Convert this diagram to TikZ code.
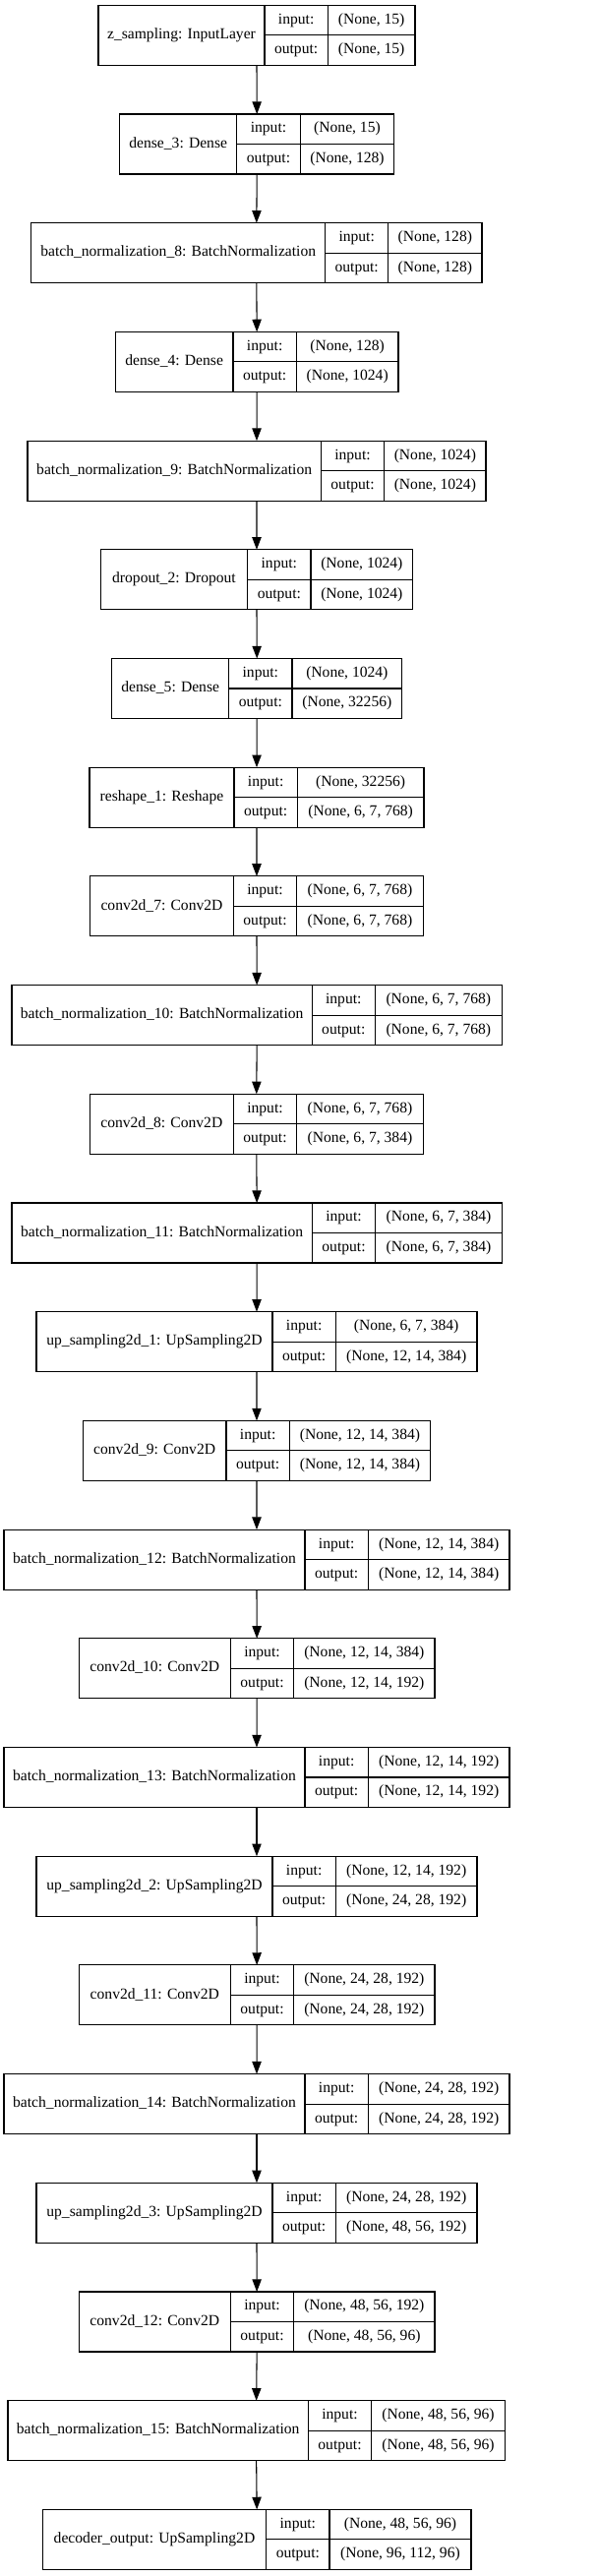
\documentclass[tikz,border=0pt]{standalone}
\usepackage{fontspec}
\setmainfont{Liberation Serif}
\usetikzlibrary{arrows.meta}

\tikzset{
  rec/.style={draw, line width=0.8pt, inner sep=0pt, outer sep=0pt, anchor=north west, minimum height=45.75pt},
  cell/.style={font=\fontsize{11.7}{14}\selectfont, inner sep=0pt, text height=8.1pt, text depth=2.6pt},
  flow/.style={line width=0.8pt, -{Triangle[length=9.5pt,width=7pt]}}
}

% #1 node, #2 top, #3 left, #4 first bar, #5 second bar, #6 right, #7 layer, #8 input, #9 output
\newcommand{\layer}[9]{%
  \node (#1) [rec, minimum width={(#6-#3)*0.75pt}] at (#3,#2) {};
  \draw[line width=0.8pt] (#4,#2) -- (#4,#2+61) (#5,#2) -- (#5,#2+61)
        (#4,#2+30.5) -- (#6,#2+30.5);
  \node (#1n) [cell] at ({(#3+#4)/2},#2+30.5) {#7};
  \node (#1i) [cell] at ({(#4+#5)/2},#2+15.25) {input:};
  \node (#1o) [cell] at ({(#4+#5)/2},#2+45.75) {output:};
  \node (#1a) [cell] at ({(#5+#6)/2},#2+15.25) {#8};
  \node (#1b) [cell] at ({(#5+#6)/2},#2+45.75) {#9};
}

\begin{document}
\begin{tikzpicture}[x=0.75pt, y=-0.75pt]
  \useasboundingbox (0,0) rectangle (607,2619);
  \layer{l0}{5.3}{100}{269}{333.3}{422}{z\_sampling: InputLayer}{(None, 15)}{(None, 15)}
  \layer{l1}{116}{121.7}{240.7}{305.3}{400.7}{dense\_3: Dense}{(None, 15)}{(None, 128)}
  \layer{l2}{226.7}{31.7}{330.7}{394.7}{490}{batch\_normalization\_8: BatchNormalization}{(None, 128)}{(None, 128)}
  \layer{l3}{337.4}{117.3}{237}{301.3}{405}{dense\_4: Dense}{(None, 128)}{(None, 1024)}
  \layer{l4}{448.1}{28}{326.3}{390.7}{494}{batch\_normalization\_9: BatchNormalization}{(None, 1024)}{(None, 1024)}
  \layer{l5}{558.8}{102.3}{251.7}{316}{419.7}{dropout\_2: Dropout}{(None, 1024)}{(None, 1024)}
  \layer{l6}{669.5}{113.7}{232.7}{297}{408.7}{dense\_5: Dense}{(None, 1024)}{(None, 32256)}
  \layer{l7}{780.2}{91}{238}{302.3}{431}{reshape\_1: Reshape}{(None, 32256)}{(None, 6, 7, 768)}
  \layer{l8}{890.9}{91.7}{237.3}{301.7}{430.3}{conv2d\_7: Conv2D}{(None, 6, 7, 768)}{(None, 6, 7, 768)}
  \layer{l9}{1001.6}{12}{317.3}{381.3}{510.3}{batch\_normalization\_10: BatchNormalization}{(None, 6, 7, 768)}{(None, 6, 7, 768)}
  \layer{l10}{1112.3}{91.3}{237.3}{301.7}{430.3}{conv2d\_8: Conv2D}{(None, 6, 7, 768)}{(None, 6, 7, 384)}
  \layer{l11}{1223}{12}{317.3}{381.7}{510.3}{batch\_normalization\_11: BatchNormalization}{(None, 6, 7, 384)}{(None, 6, 7, 384)}
  \layer{l12}{1333.7}{37}{277}{341.3}{485}{up\_sampling2d\_1: UpSampling2D}{(None, 6, 7, 384)}{(None, 12, 14, 384)}
  \layer{l13}{1444.4}{84.3}{230}{294.3}{437.7}{conv2d\_9: Conv2D}{(None, 12, 14, 384)}{(None, 12, 14, 384)}
  \layer{l14}{1555.1}{4}{310}{374.3}{518}{batch\_normalization\_12: BatchNormalization}{(None, 12, 14, 384)}{(None, 12, 14, 384)}
  \layer{l15}{1665.8}{80.3}{234.3}{298.7}{442}{conv2d\_10: Conv2D}{(None, 12, 14, 384)}{(None, 12, 14, 192)}
  \layer{l16}{1776.5}{4}{310}{374.3}{518}{batch\_normalization\_13: BatchNormalization}{(None, 12, 14, 192)}{(None, 12, 14, 192)}
  \layer{l17}{1887.2}{37}{277}{341.3}{485}{up\_sampling2d\_2: UpSampling2D}{(None, 12, 14, 192)}{(None, 24, 28, 192)}
  \layer{l18}{1997.9}{80.3}{234.3}{298.7}{442}{conv2d\_11: Conv2D}{(None, 24, 28, 192)}{(None, 24, 28, 192)}
  \layer{l19}{2108.6}{4}{310}{374.3}{518}{batch\_normalization\_14: BatchNormalization}{(None, 24, 28, 192)}{(None, 24, 28, 192)}
  \layer{l20}{2219.3}{37}{277}{341.3}{485}{up\_sampling2d\_3: UpSampling2D}{(None, 24, 28, 192)}{(None, 48, 56, 192)}
  \layer{l21}{2330}{80.3}{234.3}{298.7}{442}{conv2d\_12: Conv2D}{(None, 48, 56, 192)}{(None, 48, 56, 96)}
  \layer{l22}{2440.7}{8}{313.3}{377.7}{513.3}{batch\_normalization\_15: BatchNormalization}{(None, 48, 56, 96)}{(None, 48, 56, 96)}
  \layer{l23}{2551.4}{43.3}{270.7}{335}{479}{decoder\_output: UpSampling2D}{(None, 48, 56, 96)}{(None, 96, 112, 96)}
  \foreach \i in {0,...,22} {
    \pgfmathtruncatemacro{\j}{\i+1}
    \draw[flow] (l\i.south) -- (l\j.north);
  }
\end{tikzpicture}
\end{document}
